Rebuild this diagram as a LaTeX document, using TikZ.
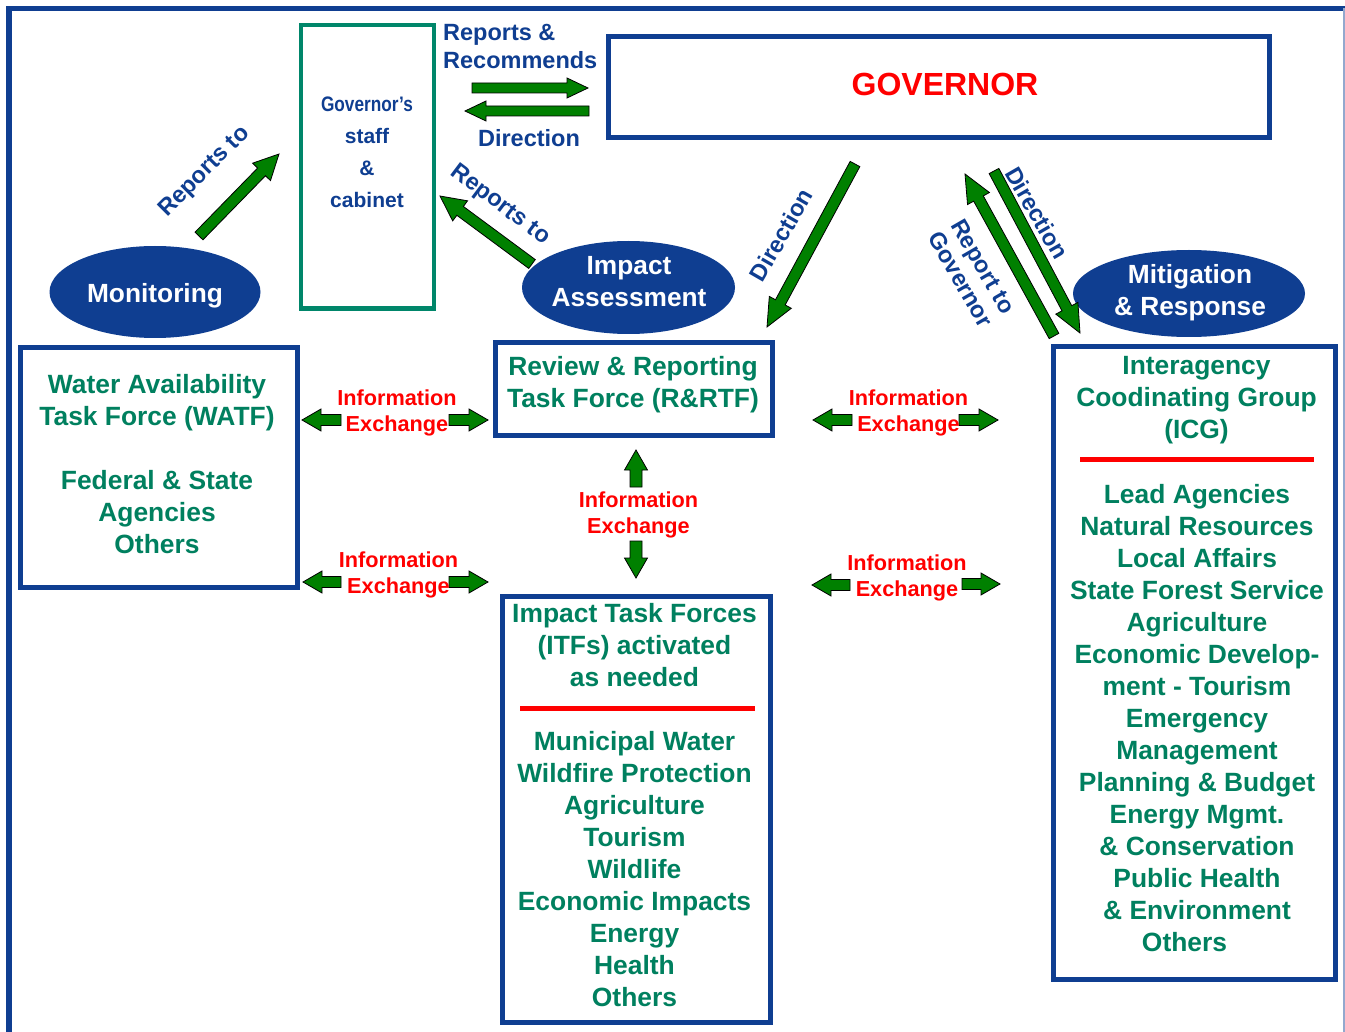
\documentclass[tikz,border=0pt]{standalone}
\usepackage{fontspec}
\setmainfont{Liberation Sans}
\usepackage{graphicx}
\usetikzlibrary{shapes.geometric}
\definecolor{navy}{HTML}{0F3E91}
\definecolor{tgreen}{HTML}{00805F}
\definecolor{sgreen}{HTML}{00866A}
\definecolor{agreen}{HTML}{008000}
\definecolor{ired}{HTML}{FF0000}
\newcommand\fs[2]{\fontsize{#1}{#2}\selectfont}
\newdimen\baX \newdimen\baY \newdimen\bbX \newdimen\bbY
\newcommand\blockarrow[5]{% start, end, shaft half width, head half width, head length
  \pgfextractx{\baX}{\pgfpointanchor{#1}{center}}%
  \pgfextracty{\baY}{\pgfpointanchor{#1}{center}}%
  \pgfextractx{\bbX}{\pgfpointanchor{#2}{center}}%
  \pgfextracty{\bbY}{\pgfpointanchor{#2}{center}}%
  \pgfmathsetmacro\baDX{\the\bbX-\the\baX}%
  \pgfmathsetmacro\baDY{\the\bbY-\the\baY}%
  \pgfmathsetmacro\baAng{atan2(\baDY,\baDX)}%
  \pgfmathsetmacro\baLen{100*veclen(\baDX/100,\baDY/100)}%
  \pgfmathsetmacro\baNeck{\baLen-#5}%
  \begin{scope}[shift={(\the\baX,\the\baY)},rotate=\baAng,x=1pt,y=1pt]
    \draw[blockarrowstyle] (0,-#3) -- (\baNeck,-#3) -- (\baNeck,-#4) -- (\baLen,0)
      -- (\baNeck,#4) -- (\baNeck,#3) -- (0,#3) -- cycle;
  \end{scope}}
\begin{document}
\begin{tikzpicture}[x=1pt,y=-1pt,
  navybox/.style={draw=navy, line width=5pt, inner sep=0pt},
  blockarrowstyle/.style={fill=agreen, draw=black, line width=0.8pt, line join=miter},
  greentxt/.style={text=tgreen, font=\bfseries\fs{26.4}{32}, align=center, inner sep=0pt},
  redtxt/.style={text=ired, font=\bfseries\fs{21.7}{26}, align=center, inner sep=0pt},
  bluelbl/.style={text=navy, font=\bfseries\fs{23.5}{28}, align=center, inner sep=0pt},
  elltxt/.style={text=white, font=\bfseries\fs{26.3}{32}, align=center, inner sep=0pt},
  ovalstyle/.style={ellipse, fill=navy, inner sep=0pt},
  redrule/.style={draw=ired, line width=5pt}]

\useasboundingbox (0,0) rectangle (1345,1032);
\fill[white] (0,0) rectangle (1345,1032);

% outer frame
\coordinate (frTL) at (9,8.5);
\coordinate (frTR) at (1345,8.5);
\coordinate (frBL) at (9,1032);
\coordinate (frRT) at (1344,8.5);
\coordinate (frRB) at (1344,1032);
\draw[navy, line width=5.5pt] (frBL) -- (frTL) -- (frTR);
\draw[navy!45, line width=1.2pt] (frRT) -- (frRB);

% boxes
\node[draw=sgreen, line width=4.5pt, inner sep=0pt, minimum width=133, minimum height=283.5] (staff) at (367.5,166.75) {};
\node[navybox, minimum width=661.5, minimum height=101.5] (gov) at (938.75,87.25) {};
\node[navybox, minimum width=277, minimum height=239] (watf) at (159,467.5) {};
\node[navybox, minimum width=277, minimum height=93] (rrtf) at (634,389) {};
\node[navybox, minimum width=267.5, minimum height=426] (itf) at (636.25,809.5) {};
\node[navybox, minimum width=282, minimum height=633] (icg) at (1194.5,663) {};

% ellipses
\node[ovalstyle, minimum width=211, minimum height=92] (mon) at (155,292) {};
\node[ovalstyle, minimum width=213, minimum height=93] (imp) at (628.5,287.5) {};
\node[ovalstyle, minimum width=232, minimum height=87] (mit) at (1189,293.5) {};

% arrow end points
\coordinate (rrS) at (472,88);   \coordinate (rrE) at (588,88);
\coordinate (dS) at (589,111);   \coordinate (dE) at (465,111);
\coordinate (m1S) at (199,236);  \coordinate (m1E) at (279,154);
\coordinate (i1S) at (532,264);  \coordinate (i1E) at (440,196);
\coordinate (g1S) at (855,164);  \coordinate (g1E) at (767,327);
\coordinate (c1S) at (1054,336); \coordinate (c1E) at (965,174);
\coordinate (g2S) at (994,171);  \coordinate (g2E) at (1080,333);

\coordinate (l1S) at (341,420);  \coordinate (l1E) at (302,420);
\coordinate (r1S) at (449,420);  \coordinate (r1E) at (488,420);
\coordinate (l2S) at (341,582);  \coordinate (l2E) at (303,582);
\coordinate (r2S) at (449,582);  \coordinate (r2E) at (488,582);
\coordinate (l3S) at (852,420);  \coordinate (l3E) at (813,420);
\coordinate (r3S) at (959,420);  \coordinate (r3E) at (998,420);
\coordinate (l4S) at (850,585);  \coordinate (l4E) at (812,585);
\coordinate (r4S) at (962,584);  \coordinate (r4E) at (1000,584);
\coordinate (uS) at (636,487);   \coordinate (uE) at (636,450);
\coordinate (dnS) at (636,541);  \coordinate (dnE) at (636,578);

\blockarrow{rrS}{rrE}{5}{10}{21}
\blockarrow{dS}{dE}{5}{10}{21}
\blockarrow{m1S}{m1E}{5.5}{12.5}{25}
\blockarrow{i1S}{i1E}{5.5}{12.5}{25}
\blockarrow{g1S}{g1E}{5.5}{12.5}{28}
\blockarrow{c1S}{c1E}{5.5}{12.5}{28}
\blockarrow{g2S}{g2E}{5.5}{12.5}{28}

\blockarrow{l1S}{l1E}{5.5}{11}{19}
\blockarrow{r1S}{r1E}{5.5}{11}{19}
\blockarrow{l2S}{l2E}{5.5}{11}{19}
\blockarrow{r2S}{r2E}{5.5}{11}{19}
\blockarrow{l3S}{l3E}{5.5}{11}{19}
\blockarrow{r3S}{r3E}{5.5}{11}{19}
\blockarrow{l4S}{l4E}{5.5}{11}{19}
\blockarrow{r4S}{r4E}{5.5}{11}{19}
\blockarrow{uS}{uE}{6}{11.5}{20}
\blockarrow{dnS}{dnE}{6}{11.5}{20}

% red rules
\coordinate (itfRL) at (520,708);  \coordinate (itfRR) at (755,708);
\coordinate (icgRL) at (1080,459.5); \coordinate (icgRR) at (1314,459.5);
\draw[redrule] (itfRL) -- (itfRR);
\draw[redrule] (icgRL) -- (icgRR);

% texts
\node[text=navy, font=\bfseries\fs{21}{32}, align=center, inner sep=0pt] (staffT) at (367,152)
  {\scalebox{0.82}[1]{Governor’s}\\staff\\\&\\cabinet};
\node[text=ired, font=\bfseries\fs{32}{36}, inner sep=0pt] (govT) at (945,84) {GOVERNOR};
\node[bluelbl, align=left, anchor=west] (repT) at (443,46) {Reports \&\\Recommends};
\node[bluelbl] (dirT) at (529,138) {Direction};
\node[bluelbl, rotate=45] (rep1T) at (205,172) {Reports to};
\node[bluelbl, rotate=-37] (rep2T) at (500,205) {Reports to};
\node[bluelbl, rotate=60] (dir2T) at (781,235) {Direction};
\node[bluelbl, rotate=-60, font=\bfseries\fs{23.5}{26}] (rtgT) at (972,273) {Report to\\Governor};
\node[bluelbl, rotate=-60] (dir3T) at (1037,213) {Direction};

\node[elltxt] (monT) at (155,296) {Monitoring};
\node[elltxt] (impT) at (629,282) {Impact\\Assessment};
\node[elltxt] (mitT) at (1190,293) {Mitigation\\\& Response};

\node[greentxt] (watfT) at (157,464.5) {Water Availability\\Task Force (WATF)\\[32pt]Federal \& State\\Agencies\\Others};
\node[greentxt] (rrtfT) at (633,384.5) {Review \& Reporting\\Task Force (R\&RTF)};
\node[greentxt] (itfT) at (634.5,645.5) {Impact Task Forces\\(ITFs) activated\\as needed};
\node[greentxt] (itfL) at (634.5,869.5) {Municipal Water\\Wildfire Protection\\Agriculture\\Tourism\\Wildlife\\Economic Impacts\\Energy\\Health\\Others};
\node[greentxt] (icgT) at (1196.5,400) {Interagency\\Coodinating Group\\(ICG)};
\node[greentxt] (icgL) at (1197,718.5) {Lead Agencies\\Natural Resources\\Local Affairs\\State Forest Service\\Agriculture\\Economic Develop-\\ment - Tourism\\Emergency\\Management\\Planning \& Budget\\Energy Mgmt.\\\& Conservation\\Public Health\\\& Environment\\Others\hspace*{25pt}};

\node[redtxt] (ie1) at (397,412.5) {Information\\Exchange};
\node[redtxt] (ie2) at (398.5,575) {Information\\Exchange};
\node[redtxt] (ie3) at (908.5,412.5) {Information\\Exchange};
\node[redtxt] (ie4) at (907,577.5) {Information\\Exchange};
\node[redtxt] (ie5) at (638.5,515) {Information\\Exchange};
\end{tikzpicture}
\end{document}
